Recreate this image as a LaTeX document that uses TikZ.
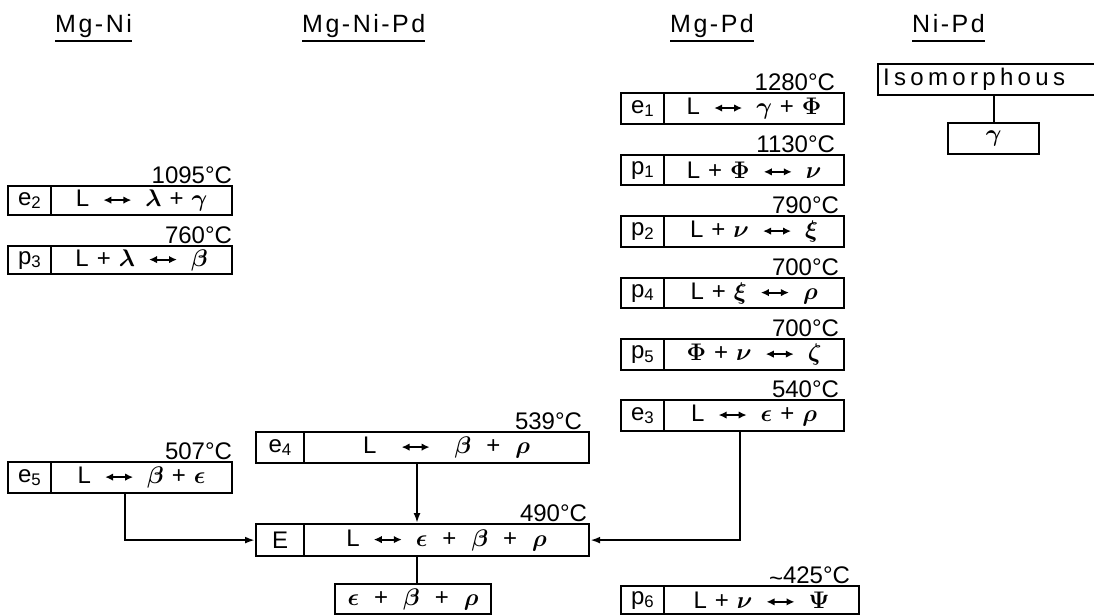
\RequirePackage{fix-cm}
\documentclass[tikz,border=0pt]{standalone}
\usepackage{fontspec}
\setmainfont{Liberation Sans}
\newfontfamily\hdrfont[LetterSpace=10]{Liberation Sans}
\newfontfamily\isofont[LetterSpace=18]{Liberation Sans}
\usetikzlibrary{arrows.meta,calc}
\newcommand{\lra}{\tikz[baseline={(0pt,-6.5pt)}]\draw[line width=2.2pt,{Latex[length=8pt,width=7.5pt]}-{Latex[length=8pt,width=7.5pt]}] (0pt,0pt) -- (28pt,0pt);}
\newcommand{\A}{\hspace{13pt}\lra\hspace{13pt}}
\newcommand{\Pl}{\hspace{8pt}+\hspace{8pt}}
\newcommand{\Aw}{\hspace{24pt}\lra\hspace{24pt}}
\newcommand{\Plw}{\hspace{15pt}+\hspace{15pt}}
\def\tx{-8}
\newcommand{\rxn}[9]{%
 \node[box, minimum width={(#3-#2)*1pt}, minimum height={(#6-#5)*1pt}] (#1l) at (#2,#5) {#7};
 \node[box, minimum width={(#4-#3)*1pt}, minimum height={(#6-#5)*1pt}] (#1) at (#3,#5) {#8};
 \node[temp] (#1t) at ([xshift=\tx pt,yshift=1.5pt]#1.north east) {#9};}
\tikzset{
 box/.style={draw, line width=2.2pt, inner sep=0pt, anchor=north west, font=\fontsize{24}{26}\selectfont\mathversion{bold}},
 temp/.style={font=\fontsize{24}{26}\selectfont, anchor=base east, inner sep=0pt},
 conn/.style={line width=2.2pt},
 arr/.style={conn, -{Latex[length=10pt,width=7pt]}},
 hdr/.style={font={\fontsize{25}{27}\hdrfont}, anchor=base west, inner sep=0pt},
}
\begin{document}
\begin{tikzpicture}[x=1pt,y=-1pt]
\useasboundingbox (0,0) rectangle (1094,615);
% headers
\node[hdr] (h1) at (55,33) {Mg-Ni};
\node[hdr] (h2) at (302,33) {Mg-Ni-Pd};
\node[hdr] (h3) at (670,33) {Mg-Pd};
\node[hdr] (h4) at (912,33) {Ni-Pd};
\foreach \h in {h1,h2,h3,h4}
  \draw[conn] ([yshift=-8pt]\h.base west) -- ([yshift=-8pt]\h.base east);
% Mg-Pd column
\def\tx{-10}
\rxn{e1}{620}{663}{843}{92}{123}{e\textsubscript{1}}{L\A$\gamma$\Pl$\Phi$}{1280°C}
\rxn{p1}{620}{663}{843}{154}{184}{p\textsubscript{1}}{L\Pl$\Phi$\A$\nu$}{1130°C}
\def\tx{-6}
\rxn{p2}{620}{663}{843}{215}{246}{p\textsubscript{2}}{L\Pl$\nu$\A$\xi$}{790°C}
\rxn{p4}{620}{663}{843}{277}{307}{p\textsubscript{4}}{L\Pl$\xi$\A$\rho$}{700°C}
\rxn{p5}{620}{663}{843}{338}{369}{p\textsubscript{5}}{$\Phi$\Pl$\nu$\A$\zeta$}{700°C}
\rxn{e3}{620}{663}{843}{399}{430}{e\textsubscript{3}}{L\A$\epsilon$\Pl$\rho$}{540°C}
\def\tx{-10}
\rxn{p6}{620}{663}{858}{585}{613}{p\textsubscript{6}}{L\Pl$\nu$\A$\Psi$}{\raisebox{-3pt}{\textasciitilde}425°C}
% Mg-Ni column
\def\tx{-1}
\rxn{e2}{7}{50}{231}{185}{214}{e\textsubscript{2}}{L\A$\lambda$\Pl$\gamma$}{1095°C}
\rxn{p3}{7}{50}{231}{245}{273}{p\textsubscript{3}}{L\Pl$\lambda$\A$\beta$}{760°C}
\rxn{e5}{7}{50}{231}{461}{492}{e\textsubscript{5}}{L\A$\beta$\Pl$\epsilon$}{507°C}
% Mg-Ni-Pd column
\def\tx{-8}
\rxn{e4}{255}{303}{588}{431}{462}{e\textsubscript{4}}{L\Aw$\beta$\Plw$\rho$}{539°C}
\def\tx{-3}
\rxn{E}{255}{303}{588}{523}{555}{E}{L\A$\epsilon$\Plw$\beta$\Plw$\rho$}{490°C}
\node[box, minimum width=156pt, minimum height=30pt] (bot) at (334,583) {$\epsilon$\Plw$\beta$\Plw$\rho$};
% Ni-Pd
\node[box, draw=none, text width=208pt, inner xsep=4pt, align=left, minimum height=29pt, font={\fontsize{24}{26}\isofont}] (iso) at (878,64) {Isomorphous};
\draw[conn] (iso.north east) -- (iso.north west) -- (iso.south west) -- (iso.south east);
\node[box, minimum width=91pt, minimum height=31pt] (gam) at (947,122) {$\gamma$};
\draw[conn] (gam.north |- iso.south) -- (gam.north);
% connectors
\coordinate (c5) at (125,0);
\coordinate (c4) at (417,0);
\coordinate (c3) at (740,0);
\draw[arr] (c5 |- e5.south) |- (El.west);
\draw[arr] (c4 |- e4.south) -- (c4 |- E.north);
\draw[conn] (c4 |- E.south) -- (c4 |- bot.north);
\draw[arr] (c3 |- e3.south) |- (E.east);
\end{tikzpicture}
\end{document}
